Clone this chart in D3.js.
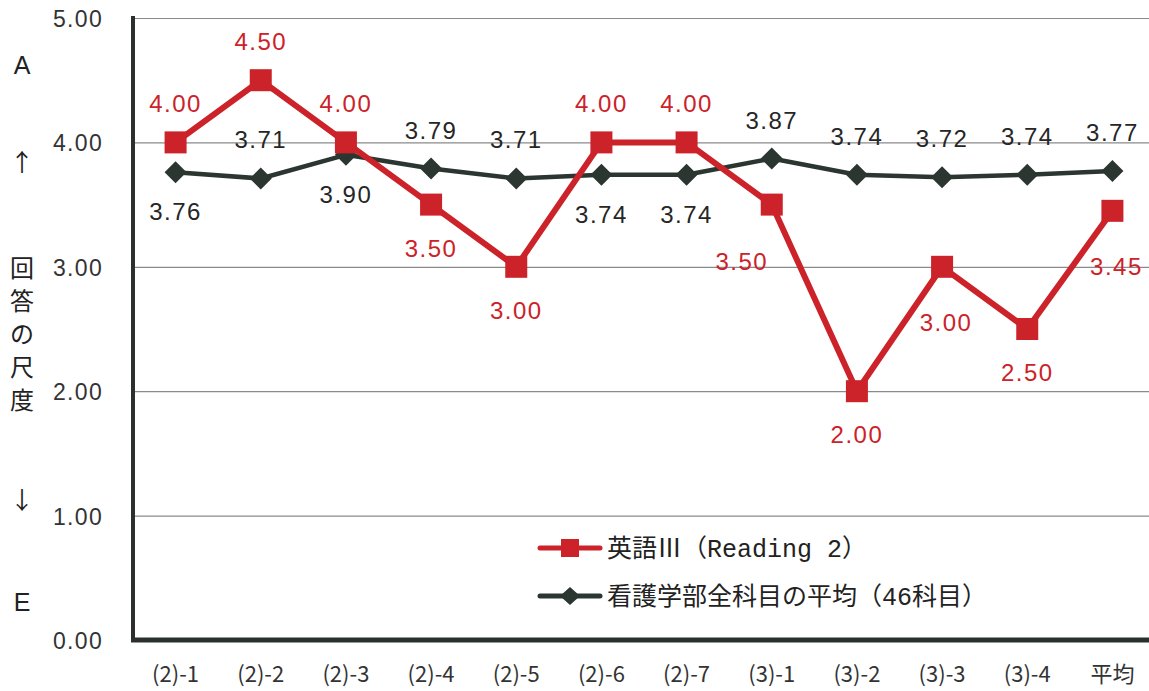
<!DOCTYPE html>
<html>
  <meta charset="utf-8">
  <style>
  body { margin: 0; background: #fff; }
  .tick-label { font-family: "Liberation Sans", Arial, sans-serif; font-size: 23px; letter-spacing: 1.3px; fill: #333; }
  .val { font-family: "Liberation Sans", Arial, sans-serif; font-size: 24px; letter-spacing: 1.5px; }
  .cat { font-family: "Liberation Sans Narrow", "Noto Sans CJK JP", sans-serif; font-size: 22px; fill: #333; }
  .ytitle { font-family: "Noto Sans CJK JP", sans-serif; font-size: 24px; fill: #222; }
  .legend { font-size: 25px; fill: #222; }
  .legend .cjk { font-family: "Noto Sans CJK JP", sans-serif; }
  .legend .lat { font-family: "Liberation Mono", monospace; }
  </style>
  <head>
    <script src="https://d3js.org/d3.v7.min.js"></script>
  </head>
  <body>
    <script>
      var categories = ["(2)-1", "(2)-2", "(2)-3", "(2)-4", "(2)-5", "(2)-6", "(2)-7", "(3)-1", "(3)-2", "(3)-3", "(3)-4", "平均"];
      var english = [4.00, 4.50, 4.00, 3.50, 3.00, 4.00, 4.00, 3.50, 2.00, 3.00, 2.50, 3.45];
      var nursing = [3.76, 3.71, 3.90, 3.79, 3.71, 3.74, 3.74, 3.87, 3.74, 3.72, 3.74, 3.77];
      var yTicks = [0, 1, 2, 3, 4, 5];
      var seriesNames = ["英語Ⅲ（Reading 2）", "看護学部全科目の平均（46科目）"];
      // where each value label sits relative to its point
      var englishLabelPos = ["above", "above", "above", "below", "below", "above", "above", "belowLeft", "below", "belowFar", "below", "belowFar"];
      var nursingLabelPos = ["below", "above", "below", "above", "above", "below", "below", "above", "above", "above", "above", "above"];

      var width = 1149,
          height = 691,
          red = "#cc2229",
          dark = "#2b3631";

      var x = d3.scaleBand().domain(categories).range([133, 1155]);
      var y = d3.scaleLinear().domain([0, 5]).range([640, 18]);
      var cx = function(d, i) { return x(categories[i]) + x.bandwidth() / 2; };

      var svg = d3.select("body").append("svg")
          .attr("width", width)
          .attr("height", height);

      // grid
      svg.append("g").selectAll("line")
          .data(yTicks.filter(function(t) { return t > 0; }))
          .enter().append("line")
          .attr("x1", 133).attr("x2", width)
          .attr("y1", function(d) { return y(d) + 0.5; })
          .attr("y2", function(d) { return y(d) + 0.5; })
          .attr("stroke", "#8a8a8a").attr("stroke-width", 1.2);

      // y tick labels
      svg.append("g").selectAll("text")
          .data(yTicks)
          .enter().append("text")
          .attr("class", "tick-label")
          .attr("x", 103).attr("y", function(d) { return y(d) + 9; })
          .attr("text-anchor", "end")
          .text(function(d) { return d.toFixed(2); });

      // axes lines
      svg.append("line").attr("x1", 133).attr("x2", 133).attr("y1", 16).attr("y2", 642)
          .attr("stroke", "#2a302d").attr("stroke-width", 4);
      svg.append("line").attr("x1", 131).attr("x2", width).attr("y1", 640).attr("y2", 640)
          .attr("stroke", "#2a302d").attr("stroke-width", 5);

      // x labels
      svg.append("g").selectAll("text")
          .data(categories)
          .enter().append("text")
          .attr("class", "cat")
          .attr("x", cx).attr("y", 682)
          .attr("text-anchor", "middle")
          .text(function(d) { return d; });

      // y title
      var yt = svg.append("g").attr("class", "ytitle").attr("text-anchor", "middle");
      yt.append("text").attr("x", 22).attr("y", 74).style("font-family", "Liberation Sans Narrow, sans-serif").style("font-size", "25px").text("A");
      yt.append("text").attr("x", 22).attr("y", 171).text("↑");
      ["回", "答", "の", "尺", "度"].forEach(function(c, i) {
        yt.append("text").attr("x", 22).attr("y", 277 + i * 33).text(c);
      });
      yt.append("text").attr("x", 22).attr("y", 509).text("↓");
      yt.append("text").attr("x", 22).attr("y", 611).style("font-family", "Liberation Sans Narrow, sans-serif").style("font-size", "25px").text("E");

      var line = d3.line()
          .x(function(d, i) { return cx(d, i); })
          .y(function(d) { return y(d); });

      var diamond = "M0,-11L11,0L0,11L-11,0Z";

      // nursing average series
      svg.append("path").datum(nursing)
          .attr("d", line).attr("fill", "none")
          .attr("stroke", dark).attr("stroke-width", 4.5).attr("stroke-linejoin", "round");
      svg.append("g").selectAll("path")
          .data(nursing).enter().append("path")
          .attr("d", diamond).attr("fill", dark)
          .attr("transform", function(d, i) { return "translate(" + cx(d, i) + "," + y(d) + ")"; });

      // english series
      svg.append("path").datum(english)
          .attr("d", line).attr("fill", "none")
          .attr("stroke", red).attr("stroke-width", 6).attr("stroke-linejoin", "round");
      svg.append("g").selectAll("rect")
          .data(english).enter().append("rect")
          .attr("x", function(d, i) { return cx(d, i) - 11; })
          .attr("y", function(d) { return y(d) - 11; })
          .attr("width", 22).attr("height", 22)
          .attr("fill", red);

      function offset(pos, isRed) {
        if (pos === "above") return [0, -30];
        if (pos === "belowLeft") return [-30, 65];
        if (pos === "belowFar") return [4, 64];
        return [0, isRed ? 52 : 48];
      }

      svg.append("g").selectAll("text")
          .data(nursing).enter().append("text")
          .attr("class", "val").attr("fill", "#262626")
          .attr("text-anchor", "middle")
          .attr("x", function(d, i) { return cx(d, i) + offset(nursingLabelPos[i], false)[0]; })
          .attr("y", function(d, i) { return y(d) + offset(nursingLabelPos[i], false)[1]; })
          .text(function(d) { return d.toFixed(2); });

      svg.append("g").selectAll("text")
          .data(english).enter().append("text")
          .attr("class", "val").attr("fill", red)
          .attr("text-anchor", "middle")
          .attr("x", function(d, i) { return cx(d, i) + offset(englishLabelPos[i], true)[0]; })
          .attr("y", function(d, i) { return y(d) + offset(englishLabelPos[i], true)[1]; })
          .text(function(d) { return d.toFixed(2); });

      // split legend text into latin / cjk runs so each gets its own font
      function runs(s) {
        var out = [];
        Array.from(s).forEach(function(ch) {
          var k = ch.charCodeAt(0) > 0x2000 ? "cjk" : "lat";
          if (out.length && out[out.length - 1].k === k) out[out.length - 1].t += ch;
          else out.push({k: k, t: ch});
        });
        return out;
      }

      // legend
      var lg = svg.append("g").attr("transform", "translate(540,548)");
      lg.append("line").attr("x1", 0).attr("x2", 60).attr("y1", 0).attr("y2", 0)
          .attr("stroke", red).attr("stroke-width", 5).attr("stroke-linecap", "round");
      lg.append("rect").attr("x", 21).attr("y", -9).attr("width", 18).attr("height", 18).attr("fill", red);
      lg.append("line").attr("x1", 0).attr("x2", 60).attr("y1", 48).attr("y2", 48)
          .attr("stroke", dark).attr("stroke-width", 5).attr("stroke-linecap", "round");
      lg.append("path").attr("d", "M0,-9L10,0L0,9L-10,0Z").attr("fill", dark)
          .attr("transform", "translate(30,48)");
      seriesNames.forEach(function(name, i) {
        lg.append("text").attr("class", "legend").attr("x", 67).attr("y", 9 + i * 48)
          .selectAll("tspan").data(runs(name)).enter().append("tspan")
          .attr("class", function(r) { return r.k; })
          .text(function(r) { return r.t; });
      });
    </script>
  </body>
</html>
